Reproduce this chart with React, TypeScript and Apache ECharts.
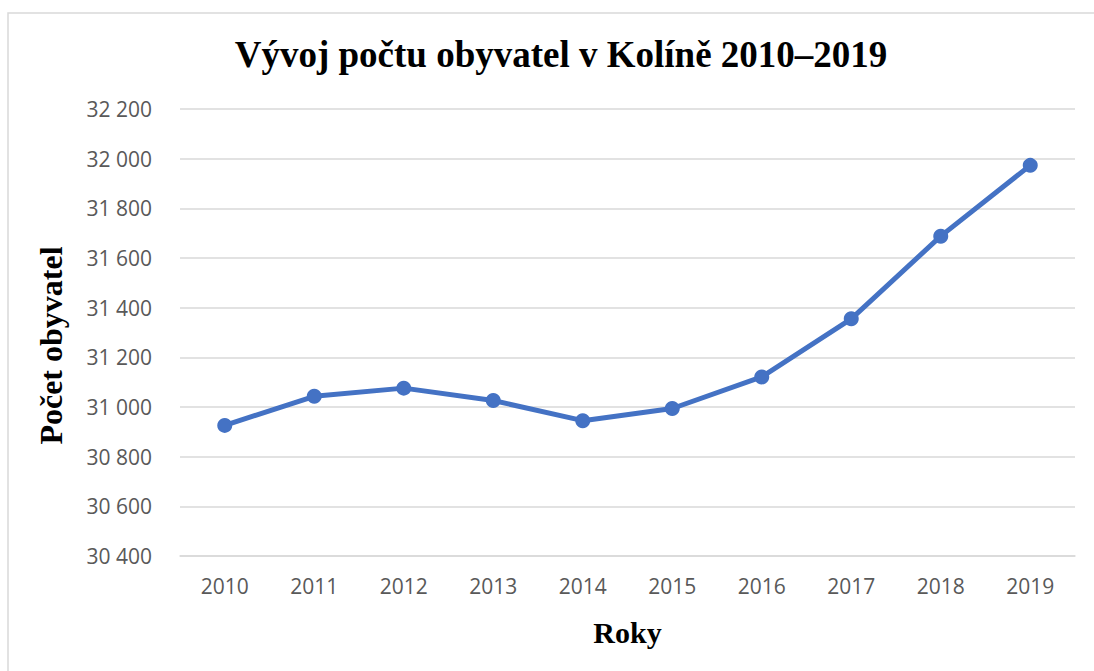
import React, { useEffect, useRef } from "react";
import * as echarts from "echarts";

const years = ["2010", "2011", "2012", "2013", "2014", "2015", "2016", "2017", "2018", "2019"];
const population = [30926, 31043, 31076, 31026, 30945, 30994, 31121, 31355, 31688, 31973];
const titleText = "Vývoj počtu obyvatel v Kolíně 2010–2019";
const xName = "Roky";
const yName = "Počet obyvatel";

const fmt = (v: number) => {
  const s = String(Math.round(v));
  return s.replace(/\B(?=(\d{3})+(?!\d))/g, " ");
};

export default function App() {
  const ref = useRef<HTMLDivElement>(null);
  useEffect(() => {
    if (!ref.current) return;
    const chart = echarts.init(ref.current, undefined, { renderer: "svg" });
    chart.setOption({
      animation: false,
      backgroundColor: "#ffffff",
      title: {
        text: titleText,
        left: 556,
        top: 31,
        textAlign: "center",
        textStyle: {
          fontFamily: "Liberation Serif",
          fontWeight: "bold",
          fontSize: 37,
          color: "#000000",
        },
      },
      graphic: [
        {
          type: "rect",
          shape: { x: 8, y: 13, width: 1100, height: 700 },
          style: { fill: "none", stroke: "#d9d9d9", lineWidth: 1.5 },
          silent: true,
        },
      ],
      grid: { left: 180, right: 19, top: 109, bottom: 115 },
      xAxis: {
        type: "category",
        data: years,
        boundaryGap: true,
        name: xName,
        nameLocation: "middle",
        nameGap: 61,
        nameTextStyle: {
          fontFamily: "Liberation Serif",
          fontWeight: "bold",
          fontSize: 30,
          color: "#000000",
        },
        axisLine: { show: true, lineStyle: { color: "#d9d9d9", width: 1.5 } },
        axisTick: { show: false },
        axisLabel: {
          fontFamily: "Open Sans",
          fontSize: 21,
          color: "#595959",
          margin: 19,
        },
      },
      yAxis: {
        type: "value",
        min: 30400,
        max: 32200,
        interval: 200,
        name: yName,
        nameLocation: "middle",
        nameRotate: 90,
        nameGap: 113,
        nameTextStyle: {
          fontFamily: "Liberation Serif",
          fontWeight: "bold",
          fontSize: 32,
          color: "#000000",
          padding: [0, 26, 0, 0],
        },
        axisLine: { show: false },
        axisTick: { show: false },
        axisLabel: {
          fontFamily: "Open Sans",
          fontSize: 21,
          color: "#595959",
          margin: 28,
          formatter: (v: number) => fmt(v),
        },
        splitLine: { lineStyle: { color: "#d9d9d9", width: 1.5 } },
      },
      series: [
        {
          type: "line",
          data: population,
          symbol: "circle",
          symbolSize: 15,
          lineStyle: { color: "#4472C4", width: 5 },
          itemStyle: { color: "#4472C4" },
        },
      ],
    });
    return () => chart.dispose();
  }, []);
  return (
    <div
      ref={ref}
      style={{ position: "absolute", left: 0, top: 0, width: 1094, height: 671 }}
    />
  );
}
